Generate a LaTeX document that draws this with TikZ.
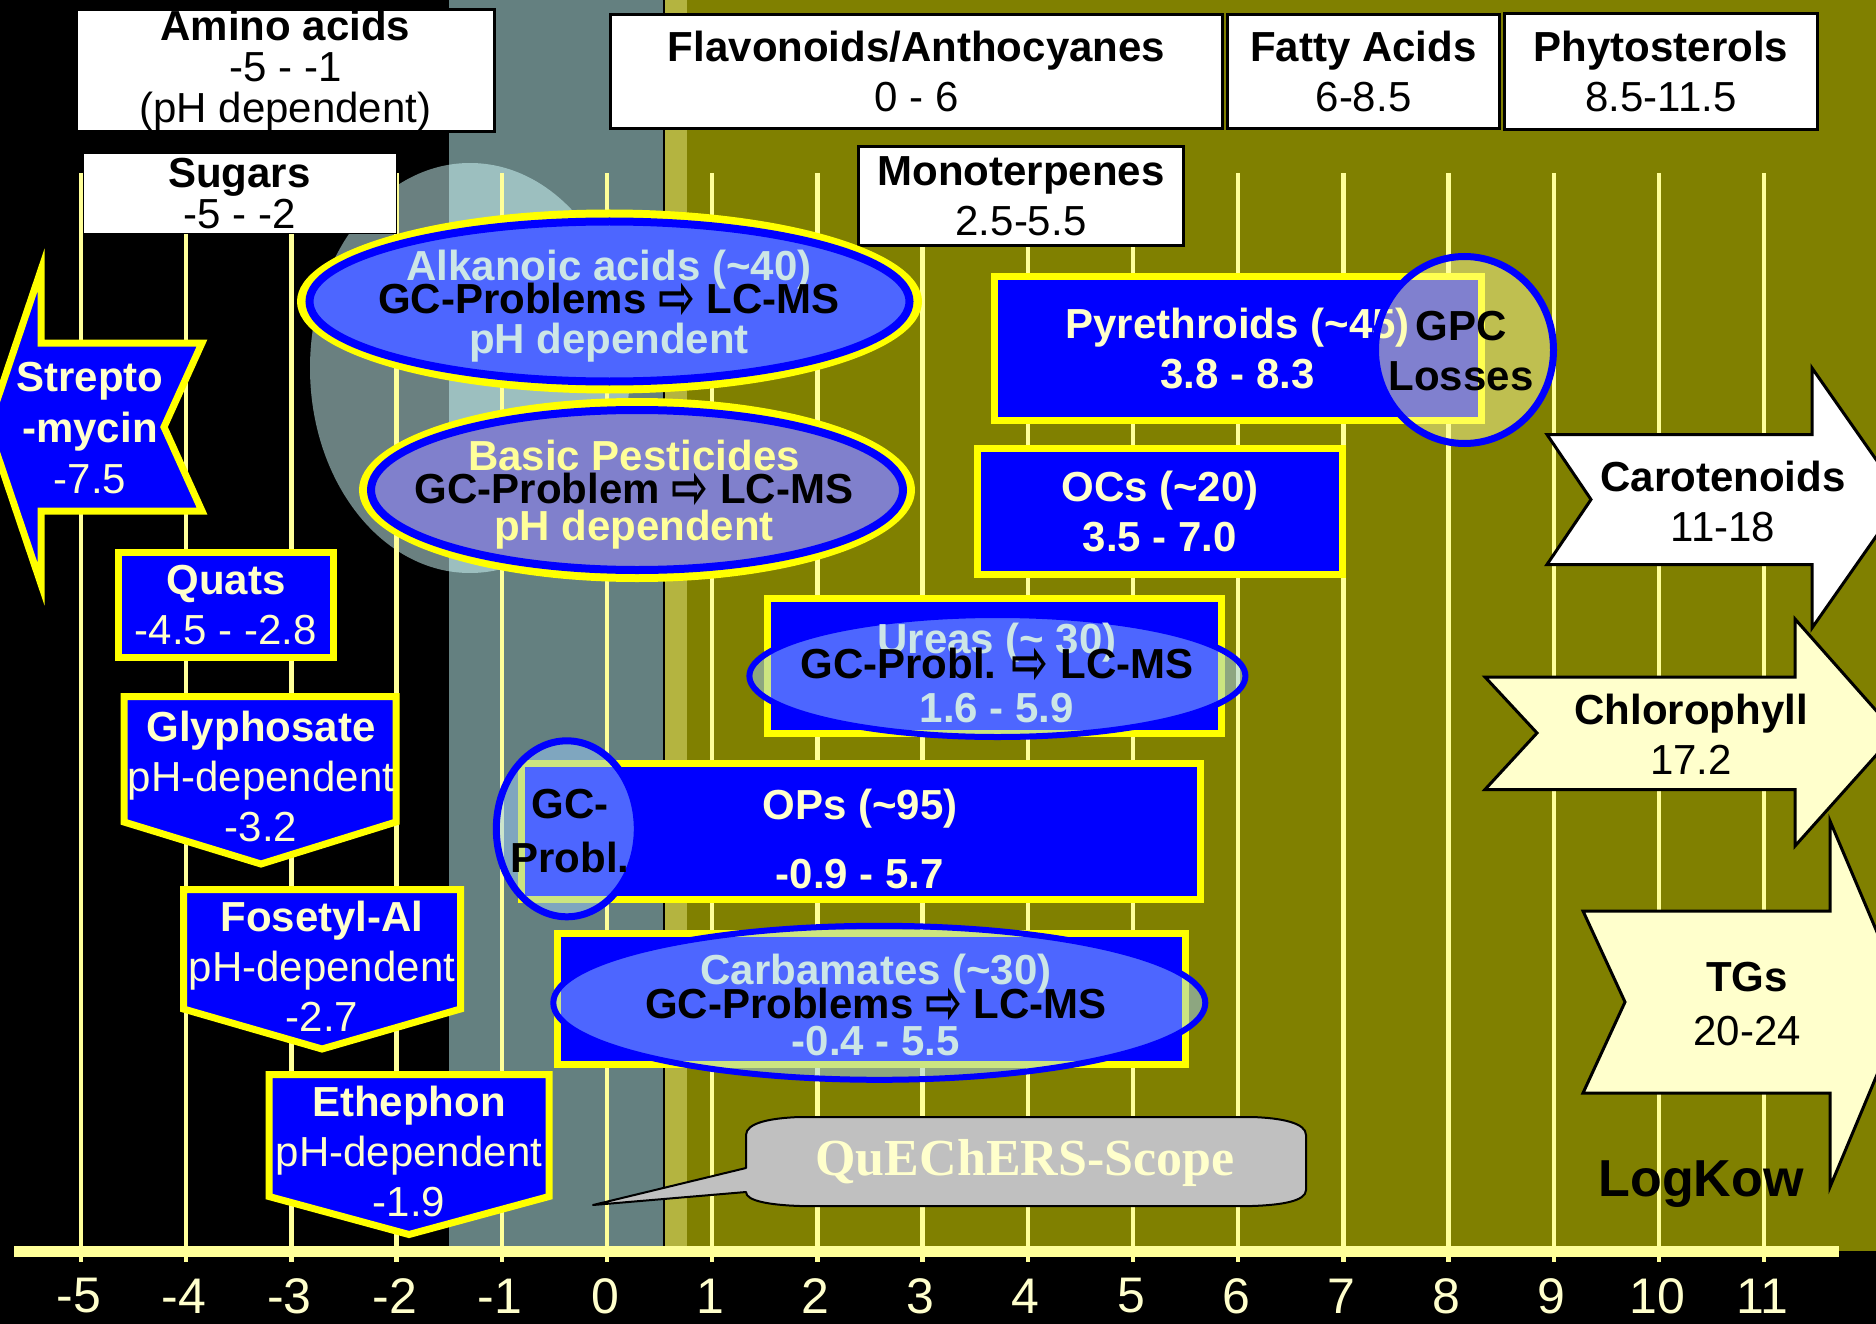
\documentclass[tikz,border=0pt]{standalone}
\usepackage{fontspec}
\setmainfont{Liberation Sans}
\newfontfamily\arrowfont{DejaVu Sans}
\newfontfamily\scopefont{Liberation Serif}
\usepackage{graphicx}
\usepackage{tikz}
\definecolor{TealGray}{RGB}{100,128,128}
\definecolor{OliveBg}{RGB}{128,128,0}
\definecolor{OliveStrip}{RGB}{180,180,64}
\definecolor{GridYellow}{RGB}{255,255,153}
\definecolor{PaleText}{RGB}{255,255,204}
\definecolor{PaleCyan}{RGB}{204,230,230}
\definecolor{BoxBlue}{RGB}{0,0,255}
\definecolor{BoxYellow}{RGB}{255,255,0}
\definecolor{AlkBlue}{RGB}{77,102,255}
\definecolor{BasicLilac}{RGB}{128,128,204}
\definecolor{GlassFill}{RGB}{154,204,255}
\definecolor{GpcFill}{RGB}{255,255,160}
\definecolor{HaloFill}{RGB}{213,255,255}
\definecolor{CalloutGray}{RGB}{192,192,192}
\definecolor{ArrowCream}{RGB}{255,255,204}

\newcommand{\bigfont}{\fontsize{42}{50}\selectfont}
\newcommand{\tightfont}{\fontsize{42}{41}\selectfont}
\newcommand{\rarr}{\raisebox{-0.12em}{\scalebox{1.05}[1.45]{\arrowfont ⇨}}}
\newcommand{\tld}{\textasciitilde}

\tikzset{
  whitebox/.style={draw=black,line width=3pt,fill=white,inner sep=0pt,align=center,font=\bigfont},
  bluebox/.style={draw=BoxYellow,line width=7pt,fill=BoxBlue,inner sep=0pt,align=center,
                  font=\bigfont\bfseries,text=PaleText},
  bluetag/.style={draw=BoxYellow,line width=7pt,fill=BoxBlue},
  tagtext/.style={align=center,font=\bigfont,text=PaleText},
  boxtext/.style={align=center,font=\bigfont\bfseries,text=PaleText},
  gridline/.style={GridYellow,line width=4.5pt},
  axisline/.style={GridYellow,line width=11pt},
  ticklabel/.style={text=PaleText,font=\fontsize{50}{50}\selectfont,inner sep=0pt},
  glassring/.style={draw=BoxBlue,line width=6pt,fill=GlassFill,fill opacity=0.5},
  ovaltext/.style={align=center,font=\fontsize{42}{42}\selectfont\bfseries},
  bigarrow/.style={draw=black,line width=3pt},
  arrowtext/.style={align=center,font=\bigfont,text=black},
  callout/.style={fill=CalloutGray,draw=black,line width=2pt,line join=round}
}

\begin{document}
\begin{tikzpicture}[x=1pt,y=-1pt]
  \useasboundingbox (0,0) rectangle (1876,1324);
  % background bands
  \fill[black] (0,0) rectangle (1876,1324);
  \fill[TealGray] (449,0) rectangle (665,1251);
  \fill[OliveStrip] (665,0) rectangle (687,1251);
  \fill[OliveBg] (687,0) rectangle (1876,1251);
  \draw[black,line width=2pt] (664,0) -- (664,1251);
  \fill[HaloFill,fill opacity=0.5] (470,368) ellipse [x radius=160pt,y radius=205pt];

  % LogKow scale
  \foreach \v in {-5,...,11}{
    \draw[gridline] ({607+105.2*\v},173) -- ({607+105.2*\v},1262);
    \node[ticklabel] (tick\v) at ({605+105.2*\v},1296) {\v};
  }
  \draw[axisline] (14,1251) -- (1839,1251);

  % matrix compounds
  \node[whitebox,minimum width=418pt,minimum height=118pt,font=\tightfont] (amino) at (285.5,70.5)
    {\textbf{Amino acids}\\-5 - -1\\(pH dependent)};
  \node[whitebox,minimum width=612pt,minimum height=114pt] (flav) at (916.5,71.5)
    {\textbf{Flavonoids/Anthocyanes}\\0 - 6};
  \node[whitebox,minimum width=272pt,minimum height=114pt] (fatty) at (1363.5,71.5)
    {\textbf{Fatty Acids}\\6-8.5};
  \node[whitebox,minimum width=313pt,minimum height=116pt] (phyto) at (1661,71.5)
    {\textbf{Phytosterols}\\8.5-11.5};
  \node[whitebox,minimum width=313pt,minimum height=80pt,line width=1pt,font=\tightfont] (sugars) at (239.5,194)
    {\textbf{Sugars}\\-5 - -2};
  \node[whitebox,minimum width=325pt,minimum height=99pt] (mono) at (1021,196)
    {\textbf{Monoterpenes}\\2.5-5.5};

  % acidic and basic groups
  \fill[BoxYellow] (609.5,301.5) ellipse [x radius=312.5pt,y radius=92pt];
  \filldraw[fill=AlkBlue,draw=BoxBlue,line width=8pt] (609.5,301.5) ellipse [x radius=300pt,y radius=80pt];
  \node[ovaltext,text=PaleCyan] (alkanoic) at (609,306)
    {Alkanoic acids (\tld40)\\[-9pt]\textcolor{black}{GC-Problems \rarr\ LC-MS}\\[-2pt]pH dependent};
  \fill[BoxYellow] (637,490) ellipse [x radius=278pt,y radius=92pt];
  \filldraw[fill=BasicLilac,draw=BoxBlue,line width=8pt] (637,490) ellipse [x radius=266pt,y radius=80pt];
  \node[ovaltext,text=GridYellow] (basic) at (634,495)
    {Basic Pesticides\\[-9pt]\textcolor{black}{GC-Problem \rarr\ LC-MS}\\[-5pt]pH dependent};

  % polar pesticides
  \filldraw[bluetag] (-12,427) -- (41,270) -- (41,343) -- (202,343) -- (164,427)
    -- (202,511) -- (41,511) -- (41,584) -- cycle;
  \node[tagtext,font=\fontsize{42}{51}\selectfont] (strepto) at (90,428)
    {\textbf{Strepto}\\\textbf{-mycin}\\-7.5};
  \node[bluebox,minimum width=215pt,minimum height=105pt] (quats) at (226,605)
    {Quats\\\mdseries -4.5 - -2.8};
  \filldraw[bluetag] (124,696.5) -- (396,696.5) -- (396,822) -- (261,864) -- (124,822) -- cycle;
  \node[tagtext] (glypho) at (261,776) {\textbf{Glyphosate}\\pH-dependent\\-3.2};
  \filldraw[bluetag] (183.5,889.5) -- (460.5,889.5) -- (460.5,1009) -- (322,1049) -- (183.5,1009) -- cycle;
  \node[tagtext] (fosetyl) at (322,966) {\textbf{Fosetyl-Al}\\pH-dependent\\-2.7};
  \filldraw[bluetag] (269,1074.5) -- (549,1074.5) -- (549,1196.5) -- (409,1234.5) -- (269,1196.5) -- cycle;
  \node[tagtext] (ethephon) at (409,1151) {\textbf{Ethephon}\\pH-dependent\\-1.9};

  % GC amenable groups
  \node[bluebox,minimum width=487pt,minimum height=144pt] (pyreth) at (1237.6,348.3)
    {Pyrethroids (\tld45)\\3.8 - 8.3};
  \filldraw[fill=GpcFill,fill opacity=0.5,draw=BoxBlue,line width=7pt] (1464.5,350) ellipse [x radius=89pt,y radius=93.5pt];
  \node[ovaltext,font=\bigfont\bfseries] (gpc) at (1461,351) {GPC\\Losses};
  \node[bluebox,minimum width=365pt,minimum height=126pt] (ocs) at (1160,511.5)
    {OCs (\tld20)\\3.5 - 7.0};

  \node[bluebox,minimum width=454pt,minimum height=135pt] (ureas) at (994.5,666) {};
  \filldraw[glassring] (997.4,676) ellipse [x radius=248pt,y radius=61pt];
  \node[ovaltext,text=PaleCyan] (ureatext) at (997,673)
    {Ureas (\tld\ 30)\\[-17.5pt]\textcolor{black}{GC-Probl. \rarr\ LC-MS}\\[2.5pt]1.6 - 5.9};

  \node[bluebox,minimum width=679pt,minimum height=136pt] (ops) at (861,831.5) {};
  \node[boxtext] (opstext) at (860,838.5) {OPs (\tld95)\\[19pt]-0.9 - 5.7};
  \filldraw[glassring,line width=7pt] (566.8,828.8) ellipse [x radius=70.5pt,y radius=88pt];
  \node[ovaltext,font=\fontsize{42}{54.5}\selectfont\bfseries] (gcprobl) at (570,831) {GC-\\Probl.};

  \node[bluebox,minimum width=628pt,minimum height=131pt] (carb) at (871.3,999) {};
  \filldraw[glassring] (879.3,1002.8) ellipse [x radius=326pt,y radius=77pt];
  \node[ovaltext,text=PaleCyan] (carbtext) at (876,1005)
    {Carbamates (\tld30)\\[-7.5pt]\textcolor{black}{GC-Problems \rarr\ LC-MS}\\[-5pt]-0.4 - 5.5};

  % scope callout
  \draw[callout] (746,1168) -- (746,1135) .. controls (746,1123) and (770,1118) .. (800,1117)
    -- (1252,1117) .. controls (1282,1118) and (1306,1123) .. (1306,1135)
    -- (1306,1190) .. controls (1306,1201) and (1282,1205) .. (1252,1206)
    -- (800,1206) .. controls (770,1205) and (746,1201) .. (746,1192) -- (593,1205) -- cycle;
  \node[text=PaleText,font=\scopefont\fontsize{52}{52}\selectfont\bfseries] (scope) at (1025,1163) {QuEChERS-Scope};

  % unpolar matrix
  \filldraw[bigarrow,fill=white] (1547,434.5) -- (1812,434.5) -- (1812,368) -- (1903,498)
    -- (1812,628) -- (1812,564.5) -- (1547,564.5) -- (1591,499.5) -- cycle;
  \node[arrowtext] (carot) at (1723,501) {\textbf{Carotenoids}\\11-18};
  \filldraw[bigarrow,fill=ArrowCream] (1485,677) -- (1795,677) -- (1795,619) -- (1896,733)
    -- (1795,846) -- (1795,789.5) -- (1485,789.5) -- (1537,733) -- cycle;
  \node[arrowtext] (chloro) at (1691,734) {\textbf{Chlorophyll}\\17.2};
  \filldraw[bigarrow,fill=ArrowCream] (1583,911) -- (1830,911) -- (1830,821) -- (1907,1003)
    -- (1830,1187) -- (1830,1093) -- (1583,1093) -- (1625,1002) -- cycle;
  \node[arrowtext,font=\fontsize{42}{54}\selectfont] (tgs) at (1747,1004) {\textbf{TGs}\\20-24};

  \node[font=\fontsize{52}{52}\selectfont\bfseries] (logkow) at (1701,1184) {LogKow};
\end{tikzpicture}
\end{document}
